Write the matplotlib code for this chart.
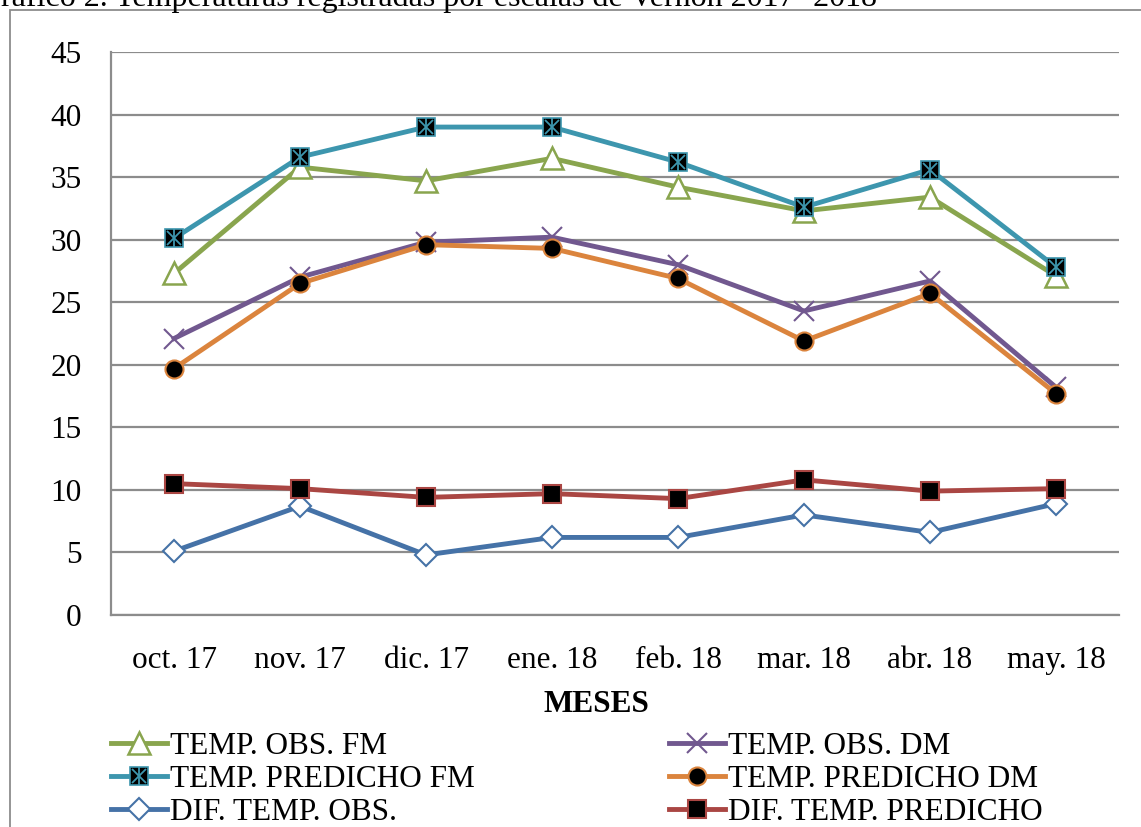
import matplotlib
matplotlib.use("Agg")
import matplotlib.pyplot as plt
from matplotlib.patches import Rectangle
from matplotlib.legend_handler import HandlerTuple

plt.rcParams['font.family'] = ['Liberation Serif', 'DejaVu Serif']

meses = ["oct. 17", "nov. 17", "dic. 17", "ene. 18", "feb. 18", "mar. 18", "abr. 18", "may. 18"]
obs_fm = [27.3, 35.8, 34.7, 36.5, 34.2, 32.3, 33.4, 27.1]
pred_fm = [30.1, 36.6, 39.0, 39.0, 36.2, 32.6, 35.6, 27.8]
obs_dm = [22.1, 27.0, 29.8, 30.2, 28.0, 24.3, 26.7, 18.2]
pred_dm = [19.7, 26.5, 29.6, 29.3, 26.9, 21.9, 25.7, 17.7]
dif_obs = [5.1, 8.7, 4.8, 6.2, 6.2, 8.0, 6.6, 8.9]
dif_pred = [10.5, 10.1, 9.4, 9.7, 9.3, 10.8, 9.9, 10.1]

W, H = 1141, 827
fig = plt.figure(figsize=(W / 100, H / 100), dpi=100)
ax = fig.add_axes([111 / W, 1 - 615 / H, 1008 / W, 563 / H])

x = list(range(len(meses)))
lw = 3.5
fs = 22.5

green, teal, blue = '#89A54E', '#3D96AE', '#4572A7'
red, purple, orange = '#AA4643', '#71588F', '#DB843D'

h_dobs, = ax.plot(x, dif_obs, color=blue, lw=lw, marker='D', ms=11, mfc='white', mec=blue, mew=1.5)
h_dpred, = ax.plot(x, dif_pred, color=red, lw=lw, marker='s', ms=13, mfc='black', mec=red, mew=1.5)
h_ofm, = ax.plot(x, obs_fm, color=green, lw=lw, marker='^', ms=16, mfc='white', mec=green, mew=1.8)
h_pfm, = ax.plot(x, pred_fm, color=teal, lw=lw, marker='s', ms=13, mfc='black', mec=teal, mew=1.2)
h_pfm_x, = ax.plot(x, pred_fm, ls='none', marker='x', ms=10, mec=teal, mew=1.3)
h_pfm_v, = ax.plot(x, pred_fm, ls='none', marker='|', ms=13, mec=teal, mew=1.3)
h_odm, = ax.plot(x, obs_dm, color=purple, lw=lw, marker='x', ms=15, mec=purple, mew=1.5)
h_pdm, = ax.plot(x, pred_dm, color=orange, lw=lw, marker='o', ms=13, mfc='black', mec=orange, mew=1.5)

ax.set_xlim(-0.5, 7.5)
ax.set_ylim(0, 45)
ax.set_yticks(range(0, 46, 5))
ax.set_xticks(x)
ax.set_xticklabels(meses)
ax.tick_params(axis='both', length=0, labelsize=fs)
ax.tick_params(axis='x', pad=22)
ax.tick_params(axis='y', pad=21)
ax.yaxis.grid(True, color='#8C8C8C', lw=1.6)
ax.set_axisbelow(True)
for s in ['top', 'right']:
    ax.spines[s].set_visible(False)
for s in ['left', 'bottom']:
    ax.spines[s].set_color('#8C8C8C')
    ax.spines[s].set_linewidth(1.6)

fig.text(596 / W, 1 - 704 / H, "MESES", ha='center', va='center', fontsize=fs, fontweight='bold')

# title line of the page, only its lower half shows in the crop
fig.text(-22 / W, 1 - 6 / H, "Gráfico 2. Temperaturas registradas por escalas de Vernon 2017- 2018",
         ha='left', va='baseline', fontsize=23)

fig.patches.append(Rectangle((10 / W, -0.1), 1.2, 1.1 - 10 / H, transform=fig.transFigure,
                             fill=False, edgecolor='#8C8C8C', lw=1.3))

handles = [h_ofm, (h_pfm, h_pfm_x, h_pfm_v), h_dobs, h_odm, h_pdm, h_dpred]
labels = ["TEMP. OBS. FM", "TEMP. PREDICHO FM", "DIF. TEMP. OBS.",
          "TEMP. OBS. DM", "TEMP. PREDICHO DM", "DIF. TEMP. PREDICHO"]
fig.legend(handles, labels, ncol=2, loc='upper left', bbox_to_anchor=(111 / W, 1 - 732 / H),
           frameon=False, fontsize=fs, handlelength=1.8, handletextpad=0.1,
           columnspacing=6.2, labelspacing=0.12, borderpad=0, borderaxespad=0,
           handler_map={tuple: HandlerTuple(ndivide=1, pad=0)})

fig.savefig("out.png", dpi=100)
